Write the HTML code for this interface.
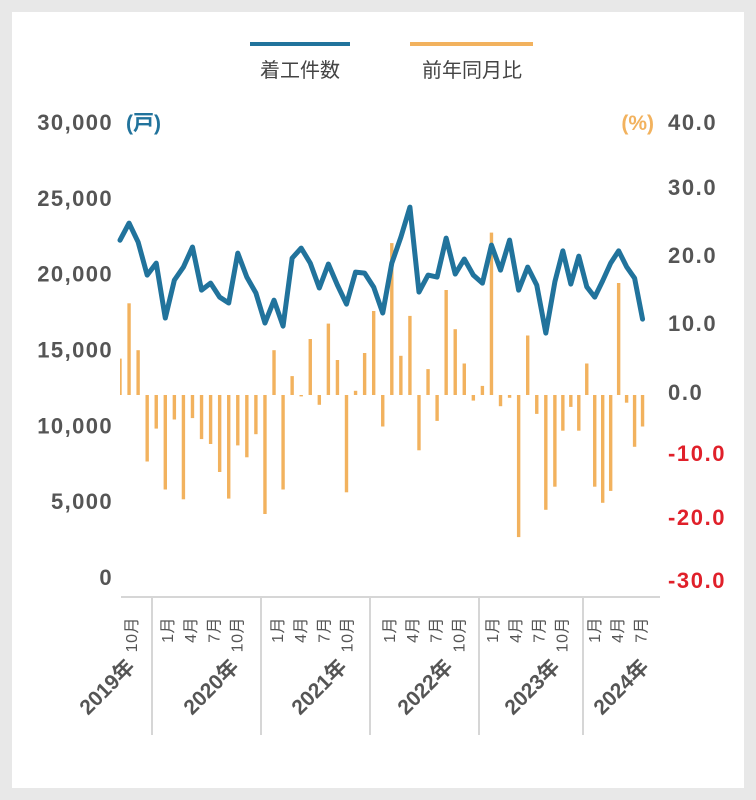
<!DOCTYPE html>
<html><head><meta charset="utf-8"><style>
body{margin:0;background:#e8e8e8;}
svg{display:block;font-family:"Liberation Sans","Noto Sans CJK JP",sans-serif;}
</style></head><body>
<svg id="chart" width="756" height="800" viewBox="0 0 756 800">
<rect x="12" y="12" width="732" height="776" fill="#fff"/>
<g>
<line x1="250" y1="44" x2="350" y2="44" stroke="#21739c" stroke-width="4"/>
<text x="300" y="77" font-size="20" fill="#444" text-anchor="middle">着工件数</text>
<line x1="410" y1="44" x2="533" y2="44" stroke="#f2b25e" stroke-width="4"/>
<text x="472" y="77" font-size="20" fill="#444" text-anchor="middle">前年同月比</text>
</g>
<text x="126" y="130" font-size="21" font-weight="bold" fill="#21739c">(戸)</text>
<text x="654" y="130" font-size="21" font-weight="bold" fill="#f2b25e" text-anchor="end">(%)</text>
<g id="leftAxis"></g><g id="rightAxis"></g><g id="bars"></g><g id="line"></g><g id="xAxis"></g>
</svg>
<script>
const starts=[22200,23330,22080,19900,20690,17070,19570,20430,21750,18910,19370,18450,18060,21350,19770,18720,16740,18250,16540,21020,21680,20690,19050,20630,19240,17990,20100,20030,19110,17400,20690,22400,24380,18780,19900,19770,22340,19970,20960,19900,19370,21880,20230,22210,18910,20430,19240,16080,19460,21500,19310,21150,19130,18450,19530,20690,21500,20450,19700,17000];
const yoy=[5.2,13.1,6.4,-9.5,-4.8,-13.5,-3.5,-14.9,-3.3,-6.3,-7.0,-11.0,-14.8,-7.2,-8.9,-5.6,-17.0,6.4,-13.5,2.7,-0.2,8.0,-1.4,10.2,5.0,-13.9,0.6,6.0,12.0,-4.5,21.7,5.6,11.3,-7.9,3.7,-3.7,15.0,9.4,4.5,-0.8,1.3,23.2,-1.6,-0.4,-20.3,8.5,-2.7,-16.4,-13.1,-5.1,-1.7,-5.1,4.5,-13.1,-15.4,-13.7,16.0,-1.1,-7.4,-4.5];
const leftTicks=[0,5000,10000,15000,20000,25000,30000];
const leftTickLabels=["0","5,000","10,000","15,000","20,000","25,000","30,000"];
const rightTickLabels=["40.0","30.0","20.0","10.0","0.0","-10.0","-20.0","-30.0"];
const rightTickY=[122,187,255,323,392,453,517,580];
const years=["2019年","2020年","2021年","2022年","2023年","2024年"];
const monthGroups=[["10月"],["1月","4月","7月","10月"],["1月","4月","7月","10月"],["1月","4月","7月","10月"],["1月","4月","7月","10月"],["1月","4月","7月"]];
const NS="http://www.w3.org/2000/svg";
function xS(i){return i<=48?120+i*9.06:120+48*9.06+(i-48)*7.97;}
function yL(v){return 577-v*0.01517;}
function yR(v){return 395-v*7.0;}
function mk(tag,attrs,parent,txt){const e=document.createElementNS(NS,tag);for(const k in attrs)e.setAttribute(k,attrs[k]);if(txt!==undefined)e.textContent=txt;parent.appendChild(e);return e;}
const gl=document.getElementById('leftAxis');
leftTicks.forEach((t,i)=>{const e=mk('text',{x:113,y:yL(t)+8,'font-size':22,'font-weight':'bold',fill:'#555','text-anchor':'end','letter-spacing':'1.4'},gl,leftTickLabels[i]);

});
const gr=document.getElementById('rightAxis');
rightTickLabels.forEach((t,i)=>{const e=mk('text',{x:668,y:rightTickY[i]+8,'font-size':22,'font-weight':'bold',fill:t.startsWith('-')?'#e0202a':'#555','letter-spacing':'1.6'},gr,t);

});
const gb=document.getElementById('bars');
yoy.forEach((v,i)=>{const y0=yR(0),y1=yR(v);let x=xS(i)-1.7,w=3.4;if(i===0){x=xS(i);w=1.7;}
const r=mk('rect',{x:x,y:Math.min(y0,y1),width:w,height:Math.max(0.8,Math.abs(y1-y0)),fill:'#f2b25e'},gb);

});
const gln=document.getElementById('line');
const p=mk('polyline',{points:starts.map((v,i)=>xS(i)+','+yL(v)).join(' '),fill:'none',stroke:'#21739c','stroke-width':5,'stroke-linejoin':'round','stroke-linecap':'round'},gln);


const gx=document.getElementById('xAxis');
const ax=mk('line',{x1:121,y1:597,x2:660,y2:597,stroke:'#d6d6d6','stroke-width':2},gx);


const seps=[152,261,370,479,583];
const groupStart=[131,167,277,389,492,594];
const yearX=[108,212,320,426,533,622];
seps.forEach(s=>{const l=mk('line',{x1:s,y1:597,x2:s,y2:735,stroke:'#d6d6d6','stroke-width':2},gx);

});
monthGroups.forEach((g,gi)=>{g.forEach((m,k)=>{const x=groupStart[gi]+k*23.2;
const t=mk('text',{transform:`translate(${x+6},617) rotate(-90)`,'font-size':16,fill:'#555','text-anchor':'end','letter-spacing':'0.5'},gx,m);

});});
years.forEach((yr,i)=>{const t=mk('text',{transform:`translate(${yearX[i]+28},${668}) rotate(-45)`,'font-size':21,'font-weight':'bold',fill:'#555','text-anchor':'end'},gx,yr);

});
</script>
</body></html>
